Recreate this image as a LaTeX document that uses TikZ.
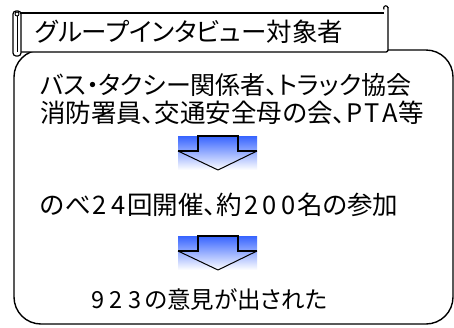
\documentclass[tikz,border=0pt]{standalone}
\usepackage{fontspec}
\setmainfont{Noto Sans CJK JP}[RawFeature=+palt]
\definecolor{arrowblue}{RGB}{55,100,255}
\newcommand{\fwd}[2][0.72em]{\makebox[#1][c]{#2}}
\tikzset{
  frame/.style={draw=black, line width=1.4pt},
  txt/.style={font=\fontsize{25.5}{30}\selectfont, inner sep=0pt, anchor=west},
  stemline/.style={draw=black, line width=1.6pt},
  diagline/.style={draw=black, line width=1pt}
}
\newcommand{\downarrowbox}[2]{%
  % #1 = name prefix, #2 = top y
  \coordinate (#1tl) at (178,#2);
  \coordinate (#1br) at (257,#2+34);
  \shade[top color=arrowblue, bottom color=white] (#1tl) rectangle (#1br);
  \coordinate (#1sl) at (178,#2+15);
  \coordinate (#1a) at (198,#2+15);
  \coordinate (#1b) at (198,#2);
  \coordinate (#1c) at (238,#2);
  \coordinate (#1d) at (238,#2+15);
  \coordinate (#1sr) at (257,#2+15);
  \coordinate (#1tip) at (218,#2+34);
  \draw[stemline, line join=miter] (#1sl) -- (#1a) -- (#1b) -- (#1c) -- (#1d) -- (#1sr);
  \draw[diagline, line join=round] (#1sl) -- (#1tip) -- (#1sr);
}
\begin{document}
\begin{tikzpicture}[x=1pt,y=-1pt]
\useasboundingbox (0,0) rectangle (454,327);
% main rounded box
\draw[frame, rounded corners=27pt, fill=white] (14,50) rectangle (453,324);
% banner (horizontal scroll)
\fill[white] (20,13) rectangle (388,52);
\draw[frame, line width=1.3pt] (20,13) -- (384,13);
\draw[frame, line width=1.3pt, rounded corners=2pt] (20,52) -- (388,52) -- (388,7);
\draw[frame, line width=1.1pt] (388,8) arc (0:220:2.2pt);
% left roll
\draw[frame, line width=1.2pt, fill=white, rounded corners=3pt] (13,11) rectangle (21,56);
\draw[line width=0.9pt] (17.3,16) -- (17.3,52);
\draw[line width=0.9pt] (17,14) circle (2pt);
% banner text
\node[txt] (title) at (35,32) {グループインタビュー対象者};
% body text
\node[txt, font=\fontsize{25}{30}\selectfont] (l1) at (40,85) {バス・タクシー関係者、トラック協会};
\node[txt] (l2) at (40,113) {消防署員、交通安全母の会、\fwd[0.7em]{P}\fwd[0.7em]{T}\fwd[0.7em]{A}等};
\downarrowbox{aa}{136}
\node[txt] (l3) at (40,205) {のべ\fwd{2}\fwd{4}回開催、約\fwd{2}\fwd{0}\fwd{0}名の参加};
\downarrowbox{bb}{236}
\node[txt, font=\fontsize{23.5}{28}\selectfont] (l4) at (88,300) {\fwd[0.8em]{9}\fwd[0.8em]{2}\fwd[0.8em]{3}の意見が出された};
\end{tikzpicture}
\end{document}
